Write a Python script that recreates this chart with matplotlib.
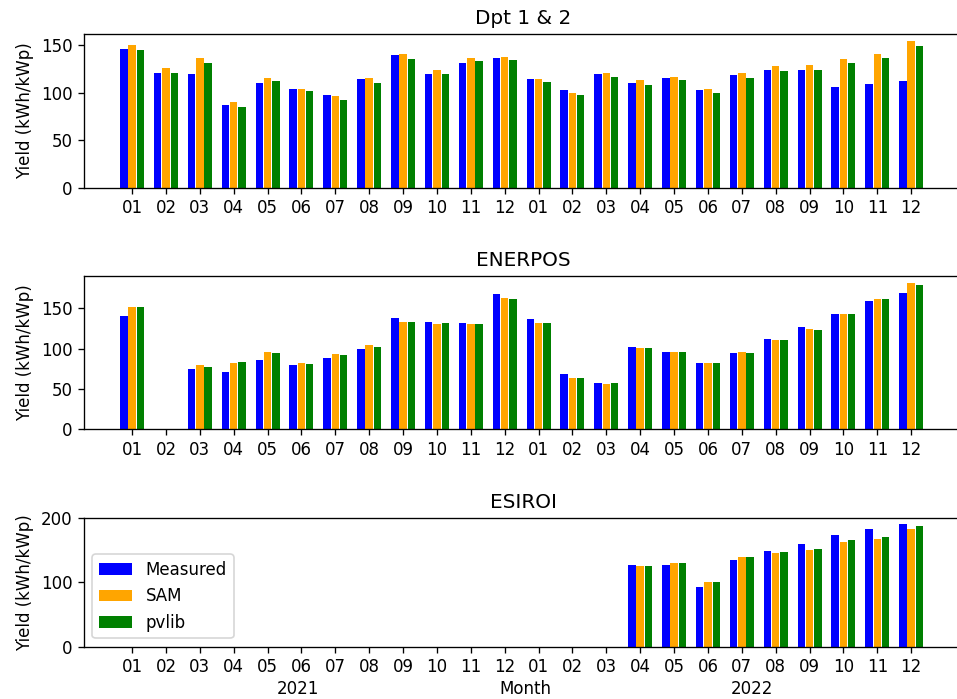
import matplotlib
matplotlib.use("Agg")
import matplotlib.pyplot as plt
import numpy as np

months = ["01", "02", "03", "04", "05", "06", "07", "08", "09", "10", "11", "12"] * 2
years = ["2021", "2022"]
series_names = ["Measured", "SAM", "pvlib"]
colors = ["blue", "orange", "green"]

nan = np.nan

dpt_measured = [145.7, 120.8, 119.8, 86.7, 110.5, 103.8, 97.4, 114.4, 139.3, 119.8, 131.5, 136.5,
                114.4, 102.3, 119.8, 110.5, 115.5, 102.3, 118.3, 123.7, 123.7, 106.3, 109.1, 112.0]
dpt_sam = [150.0, 126.0, 136.5, 89.6, 115.5, 103.8, 96.0, 115.8, 140.7, 123.7, 136.5, 137.9,
           114.4, 99.5, 120.8, 113.0, 116.9, 103.8, 120.8, 127.6, 128.6, 135.0, 140.7, 153.9]
dpt_pvlib = [144.6, 120.8, 131.5, 85.3, 112.0, 101.3, 91.7, 110.5, 135.4, 119.8, 132.9, 134.0,
             111.6, 97.4, 116.6, 107.7, 113.0, 99.9, 115.5, 122.2, 123.3, 131.5, 136.5, 148.5]

ener_measured = [140.8, nan, 75.0, 71.3, 85.4, 79.2, 88.3, 99.2, 137.5, 132.9, 131.3, 167.0,
                 136.3, 67.9, 57.5, 102.1, 96.3, 82.0, 94.6, 111.3, 126.7, 142.5, 159.2, 168.8]
ener_sam = [151.3, nan, 79.2, 82.0, 96.3, 82.0, 92.9, 103.8, 132.9, 130.0, 130.0, 162.0,
            131.3, 63.3, 55.8, 100.4, 96.3, 82.0, 96.3, 110.0, 123.8, 142.5, 160.8, 180.8]
ener_pvlib = [151.3, nan, 77.5, 83.8, 94.6, 80.4, 91.7, 102.1, 132.9, 131.3, 130.0, 160.8,
              131.3, 63.3, 57.5, 100.4, 96.3, 82.0, 94.6, 110.0, 122.5, 142.5, 160.8, 179.2]

esi_measured = [nan] * 15 + [127.6, 127.6, 92.7, 135.4, 149.0, 160.4, 174.0, 183.3, 191.0]
esi_sam = [nan] * 15 + [125.5, 129.7, 100.5, 139.0, 145.3, 151.0, 162.5, 166.7, 183.3]
esi_pvlib = [nan] * 15 + [125.5, 129.7, 100.5, 139.0, 146.9, 152.6, 166.1, 169.8, 187.5]

panels = [
    ("Dpt 1 & 2", [dpt_measured, dpt_sam, dpt_pvlib]),
    ("ENERPOS", [ener_measured, ener_sam, ener_pvlib]),
    ("ESIROI", [esi_measured, esi_sam, esi_pvlib]),
]

W, H = 957, 699
fig = plt.figure(figsize=(W / 120, H / 120), dpi=120)

# axes boxes in pixels: (top, bottom)
boxes = [(34, 187.7), (276, 429.3), (517.7, 646.7)]
left_px, right_px = 84, 962

x = np.arange(len(months))
width = 0.22
offsets = [-0.245, 0.0, 0.245]

axes = []
for (title, series), (top, bot) in zip(panels, boxes):
    ax = fig.add_axes([left_px / W, 1 - bot / H, (right_px - left_px) / W, (bot - top) / H])
    for vals, name, c, off in zip(series, series_names, colors, offsets):
        ax.bar(x + off, vals, width=width, color=c, label=name)
    ax.set_xticks(x)
    ax.set_xticklabels(months)
    ax.set_xlim(-1.42, len(months) - 1 + 1.5)
    ax.set_title(title)
    ax.set_ylabel("Yield (kWh/kWp)")
    axes.append(ax)

axes[2].legend(loc="lower left")

fig.text(298 / W, 1 - 689 / H, years[0], ha="center", va="center")
fig.text(525 / W, 1 - 689 / H, "Month", ha="center", va="center")
fig.text(752 / W, 1 - 689 / H, years[1], ha="center", va="center")

fig.savefig("out.png", dpi=120)
